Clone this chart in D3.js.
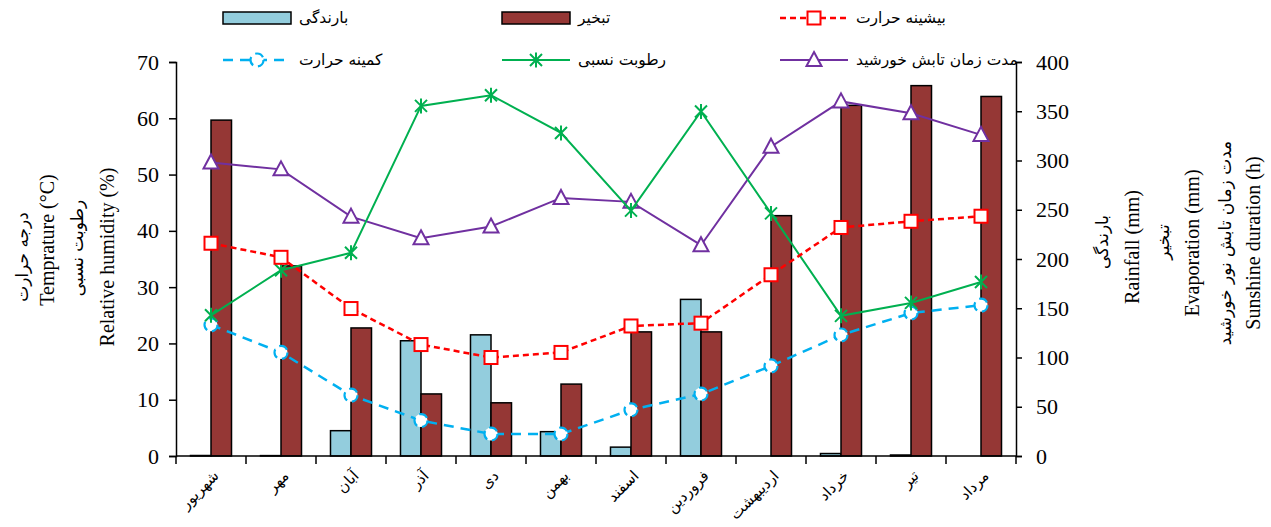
<!DOCTYPE html>
<html>
<head>
<meta charset="utf-8">
<script src="https://cdn.jsdelivr.net/npm/d3@7"></script>
<style>
  html, body { margin: 0; padding: 0; background: #fff; }
  svg { display: block; }
  text { font-family: "Liberation Serif", "DejaVu Sans", serif; fill: #000; }
  .fa { font-family: "DejaVu Sans", "Noto Sans", sans-serif; }
</style>
</head>
<body>
<svg id="chart" width="1271" height="527"></svg>
<script>
// Monthly climate data (Persian calendar, Shahrivar → Mordad)
const months = ["شهریور","مهر","آبان","آذر","دی","بهمن","اسفند","فروردین","اردیبهشت","خرداد","تیر","مرداد"];
const rainfall    = [0.5, 0.4, 25.7, 117, 123, 24.7, 9, 159, 0, 2.5, 1, 0];          // mm
const evaporation = [341, 193, 130, 63, 54, 73, 126, 126, 244, 356, 376, 365];      // mm
const maxTemp     = [37.8, 35.3, 26.2, 19.8, 17.5, 18.4, 23.1, 23.6, 32.2, 40.6, 41.7, 42.6]; // °C
const minTemp     = [23.3, 18.4, 10.8, 6.3, 3.9, 3.9, 8.2, 11.0, 16.0, 21.5, 25.4, 26.8];    // °C
const humidity    = [25.0, 33.0, 36.1, 62.2, 64.1, 57.4, 43.6, 61.2, 43.1, 24.9, 27.2, 30.9]; // %
const sunshine    = [298, 291, 243, 221, 233, 262, 258, 214, 314, 360, 348, 326];   // h

const leftTicks  = [0, 10, 20, 30, 40, 50, 60, 70];
const rightTicks = [0, 50, 100, 150, 200, 250, 300, 350, 400];

const C = {
  rain: "#93CDDD", evap: "#953735",
  max: "#FF0000", min: "#00B0F0", hum: "#00B050", sun: "#7030A0"
};

const plot = { left: 176, right: 1016, top: 62, bottom: 456 };
const svg = d3.select("#chart");

const x = d3.scaleBand().domain(months).range([plot.left, plot.right])
  .paddingInner(0.414).paddingOuter(0.207);
const xs = d3.scaleBand().domain(["rain", "evap"]).range([0, x.bandwidth()]);
const cx = m => x(m) + x.bandwidth() / 2;
const yL = d3.scaleLinear().domain([0, 70]).range([plot.bottom, plot.top]);
const yR = d3.scaleLinear().domain([0, 400]).range([plot.bottom, plot.top]);

// Bars (right axis)
const barData = months.map((m, i) => ({ m, rain: rainfall[i], evap: evaporation[i] }));
const g = svg.append("g");
["rain", "evap"].forEach(k => {
  g.selectAll(".bar-" + k).data(barData).join("rect")
    .attr("x", d => x(d.m) + xs(k))
    .attr("width", xs.bandwidth())
    .attr("y", d => yR(d[k]))
    .attr("height", d => yR(0) - yR(d[k]))
    .attr("fill", C[k])
    .attr("stroke", "#000")
    .attr("stroke-width", 1.5);
});

// Axes
const axL = d3.axisLeft(yL).tickValues(leftTicks).tickSize(7).tickPadding(10);
const axR = d3.axisRight(yR).tickValues(rightTicks).tickSize(6).tickPadding(14);
const axB = d3.axisBottom(x).tickValues([]).tickSize(0);

function styleAxis(sel) {
  sel.select(".domain").attr("stroke", "#000").attr("stroke-width", 1.5);
  sel.selectAll(".tick line").attr("stroke", "#000").attr("stroke-width", 1.5);
  sel.selectAll(".tick text").attr("font-size", 22)
    .attr("font-family", "Liberation Serif, serif").attr("fill", "#000");
}
svg.append("g").attr("transform", `translate(${plot.left},0)`).call(axL).call(styleAxis);
svg.append("g").attr("transform", `translate(${plot.right},0)`).call(axR).call(styleAxis);
const gB = svg.append("g").attr("transform", `translate(0,${plot.bottom})`).call(axB).call(styleAxis);
gB.select(".domain").attr("d", `M${plot.left},0H${plot.right}`);

// Category dividers under the x axis
const bounds = d3.range(months.length + 1).map(i => x.range()[0] + i * x.step());
gB.selectAll(".divider").data(bounds).join("line")
  .attr("x1", d => d).attr("x2", d => d).attr("y1", 0).attr("y2", 8)
  .attr("stroke", "#000").attr("stroke-width", 1.5);

// Month labels, rotated
gB.selectAll(".mlabel").data(months).join("text")
  .attr("class", "fa")
  .attr("font-size", 15)
  .attr("text-anchor", "end")
  .attr("dy", "0.35em")
  .attr("transform", d => `translate(${cx(d) + 5},${17}) rotate(-45)`)
  .text(d => d);

// Lines and markers
function series(vals, scale, color, dash, width) {
  const pts = months.map((m, i) => [cx(m), scale(vals[i])]);
  svg.append("path").attr("d", d3.line()(pts))
    .attr("fill", "none").attr("stroke", color).attr("stroke-width", width)
    .attr("stroke-dasharray", dash || null);
  return pts;
}
const markers = {
  square: (sel, color) => sel.append("rect").attr("x", -6.5).attr("y", -6.5).attr("width", 13).attr("height", 13)
    .attr("fill", "#fff").attr("stroke", color).attr("stroke-width", 2),
  circle: (sel, color) => sel.append("circle").attr("r", 6.5)
    .attr("fill", "#fff").attr("stroke", color).attr("stroke-width", 2.2).attr("stroke-dasharray", "9,5"),
  star: (sel, color) => sel.append("path").attr("d", "M-6,-6L6,6M-6,6L6,-6M0,-7.5L0,7.5")
    .attr("fill", "none").attr("stroke", color).attr("stroke-width", 2),
  triangle: (sel, color) => sel.append("path").attr("d", "M0,-8L7.5,6L-7.5,6Z")
    .attr("fill", "#fff").attr("stroke", color).attr("stroke-width", 2)
};
function drawMarkers(pts, kind, color) {
  pts.forEach(p => {
    const m = svg.append("g").attr("transform", `translate(${p[0]},${p[1]})`);
    markers[kind](m, color);
  });
}

const sunPts = series(sunshine, yR, C.sun, null, 2);
drawMarkers(sunPts, "triangle", C.sun);
const minPts = series(minTemp, yL, C.min, "10,7", 2.5);
drawMarkers(minPts, "circle", C.min);
const humPts = series(humidity, yL, C.hum, null, 2);
drawMarkers(humPts, "star", C.hum);
const maxPts = series(maxTemp, yL, C.max, "6,4", 2.5);
drawMarkers(maxPts, "square", C.max);

// Axis titles
function vtitle(xp, yp, txt, cls, size) {
  svg.append("text").attr("class", cls || null)
    .attr("font-size", size).attr("text-anchor", "middle").attr("dy", "0.35em")
    .attr("transform", `translate(${xp},${yp}) rotate(-90)`).text(txt);
}
vtitle(22, 257, "درجه حرارت", "fa", 17);
vtitle(47, 240, "Temprature (°C)", null, 20);
vtitle(77, 248, "رطوبت نسبی", "fa", 17);
vtitle(107, 257, "Relative humidity (%)", null, 20);

vtitle(1102, 242, "بارندگی", "fa", 17);
vtitle(1132, 247, "Rainfall (mm)", null, 20);
vtitle(1163, 242, "تبخیر", "fa", 17);
vtitle(1192, 243, "Evaporation (mm)", null, 20);
vtitle(1225, 243, "مدت زمان تابش نور خورشید", "fa", 17);
vtitle(1253, 243, "Sunshine duration (h)", null, 20);

// Legend
const legend = [
  { label: "بارندگی", type: "bar", color: C.rain, col: 0, row: 0 },
  { label: "تبخیر", type: "bar", color: C.evap, col: 1, row: 0 },
  { label: "بیشینه حرارت", type: "line", color: C.max, dash: "6,4", w: 2.5, marker: "square", col: 2, row: 0 },
  { label: "کمینه حرارت", type: "line", color: C.min, dash: "10,7", w: 2.5, marker: "circle", col: 0, row: 1 },
  { label: "رطوبت نسبی", type: "line", color: C.hum, w: 2, marker: "star", col: 1, row: 1 },
  { label: "مدت زمان تابش خورشید", type: "line", color: C.sun, w: 2, marker: "triangle", col: 2, row: 1 }
];
const colX = [223, 502, 780], rowY = [18, 60], symW = 68;
legend.forEach(d => {
  const gx = colX[d.col], gy = rowY[d.row];
  const lg = svg.append("g").attr("transform", `translate(${gx},${gy})`);
  if (d.type === "bar") {
    lg.append("rect").attr("x", 0).attr("y", -6).attr("width", symW).attr("height", 12)
      .attr("fill", d.color).attr("stroke", "#000").attr("stroke-width", 1.5);
  } else {
    lg.append("line").attr("x1", 0).attr("x2", symW).attr("y1", 0).attr("y2", 0)
      .attr("stroke", d.color).attr("stroke-width", d.w).attr("stroke-dasharray", d.dash || null);
    const mk = lg.append("g").attr("transform", `translate(${symW / 2},0)`);
    markers[d.marker](mk, d.color);
  }
  lg.append("text").attr("class", "fa").attr("x", symW + 8).attr("dy", "0.35em")
    .attr("font-size", 15.5).text(d.label);
});
</script>
</body>
</html>
